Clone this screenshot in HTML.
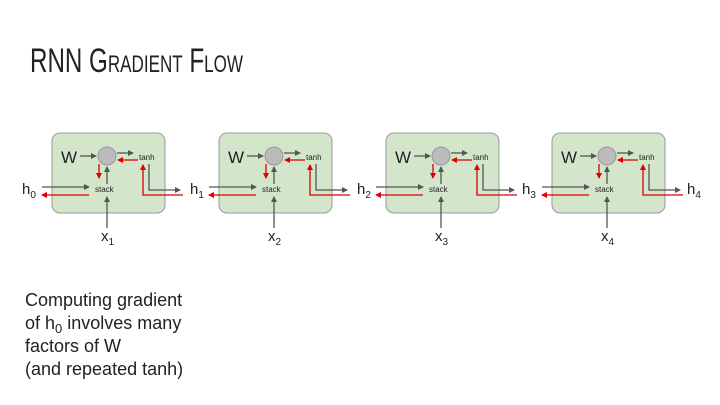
<!DOCTYPE html>
<html><head><meta charset="utf-8"><style>
html,body{margin:0;padding:0;background:#fff;}
svg{display:block;font-family:"Liberation Sans",Arial,sans-serif;}
</style></head><body>
<svg width="720" height="405" viewBox="0 0 720 405" xmlns="http://www.w3.org/2000/svg">
<defs>
<marker id="g" markerWidth="6" markerHeight="6" refX="5" refY="3" orient="auto" markerUnits="userSpaceOnUse"><path d="M0,0 L6,3 L0,6 z" fill="#555"/></marker>
<marker id="r" markerWidth="6" markerHeight="6" refX="5" refY="3" orient="auto" markerUnits="userSpaceOnUse"><path d="M0,0 L6,3 L0,6 z" fill="#d00"/></marker>
<g id="cell">
<rect x="52" y="133" width="113" height="80" rx="8" fill="#d3e6cc" stroke="#999" stroke-width="1"/>
<text x="61" y="163" font-size="17" fill="#222">W</text>
<line x1="80" y1="156" x2="96" y2="156" stroke="#555" stroke-width="1.3" marker-end="url(#g)"/>
<circle cx="107" cy="156" r="9" fill="#bbb" stroke="#999"/>
<line x1="117" y1="153" x2="133" y2="153" stroke="#555" stroke-width="1.3" marker-end="url(#g)"/>
<line x1="138" y1="160" x2="118" y2="160" stroke="#d00" stroke-width="1.3" marker-end="url(#r)"/>
<text x="139" y="160" font-size="8" fill="#222">tanh</text>
<line x1="99" y1="164" x2="99" y2="178" stroke="#d00" stroke-width="1.3" marker-end="url(#r)"/>
<line x1="107" y1="184" x2="107" y2="167" stroke="#555" stroke-width="1.3" marker-end="url(#g)"/>
<text x="95" y="192" font-size="8" fill="#222">stack</text>
<line x1="42" y1="187" x2="89" y2="187" stroke="#555" stroke-width="1.3" marker-end="url(#g)"/>
<line x1="89" y1="195" x2="42" y2="195" stroke="#d00" stroke-width="1.3" marker-end="url(#r)"/>
<line x1="107" y1="228" x2="107" y2="197" stroke="#555" stroke-width="1.3" marker-end="url(#g)"/>
<polyline points="149,164 149,190 180,190" fill="none" stroke="#555" stroke-width="1.3" marker-end="url(#g)"/>
<polyline points="183,195 143,195 143,165" fill="none" stroke="#d00" stroke-width="1.3" marker-end="url(#r)"/>
</g>
</defs>
<text x="30" y="72" font-size="34" textLength="213" lengthAdjust="spacingAndGlyphs" font-family="'Liberation Sans Narrow','Liberation Sans',sans-serif" fill="#222" style="font-variant:small-caps">RNN Gradient Flow</text>
<use href="#cell"/>
<use href="#cell" x="167"/>
<use href="#cell" x="334"/>
<use href="#cell" x="500"/>
<g font-size="15" fill="#222">
<text x="22" y="194">h<tspan font-size="10" dy="4">0</tspan></text>
<text x="190" y="194">h<tspan font-size="10" dy="4">1</tspan></text>
<text x="357" y="194">h<tspan font-size="10" dy="4">2</tspan></text>
<text x="522" y="194">h<tspan font-size="10" dy="4">3</tspan></text>
<text x="687" y="194">h<tspan font-size="10" dy="4">4</tspan></text>
<text x="101" y="241">x<tspan font-size="10" dy="4">1</tspan></text>
<text x="268" y="241">x<tspan font-size="10" dy="4">2</tspan></text>
<text x="435" y="241">x<tspan font-size="10" dy="4">3</tspan></text>
<text x="601" y="241">x<tspan font-size="10" dy="4">4</tspan></text>
</g>
<g font-size="18" fill="#222">
<text x="25" y="306">Computing gradient</text>
<text x="25" y="329">of h<tspan font-size="13" dy="4">0</tspan><tspan dy="-4"> involves many</tspan></text>
<text x="25" y="352">factors of W</text>
<text x="25" y="375">(and repeated tanh)</text>
</g>
</svg>
</body></html>
